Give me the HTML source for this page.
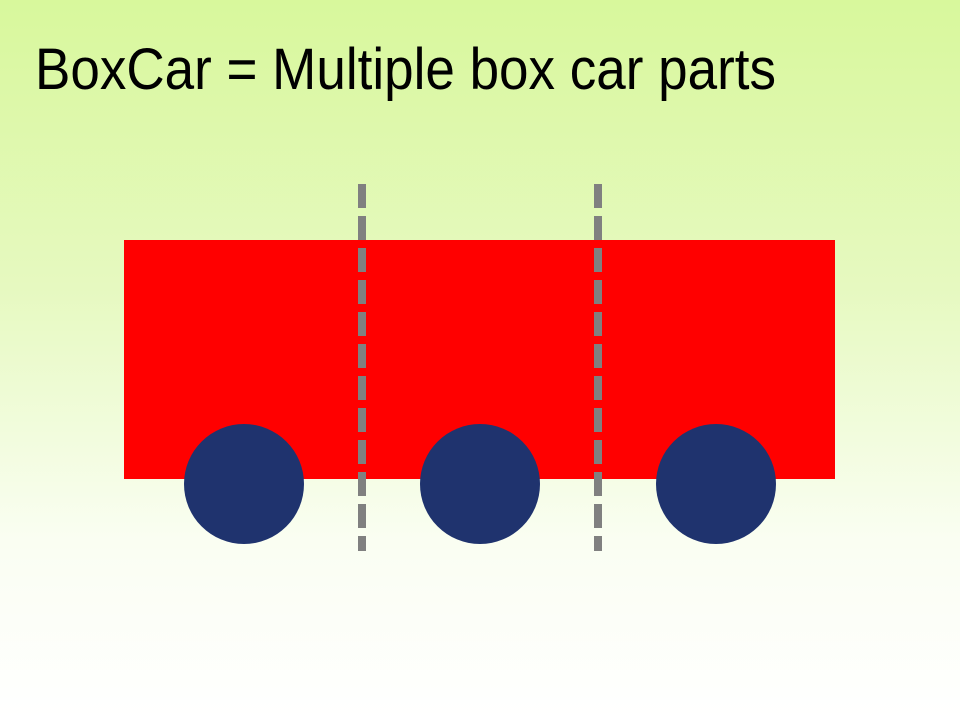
<!DOCTYPE html>
<html><head><style>
html,body{margin:0;padding:0}
body{width:960px;height:720px;overflow:hidden;background:linear-gradient(to bottom,#d8f89c 0%,#e6f9c0 40%,#fafef2 75%,#ffffff 100%)}
</style></head><body>
<svg width="960" height="720" xmlns="http://www.w3.org/2000/svg" style="position:absolute;left:0;top:0">
<text x="35" y="89" font-family="Liberation Sans, sans-serif" font-size="58" fill="#000" textLength="741" lengthAdjust="spacingAndGlyphs">BoxCar = Multiple box car parts</text>
<rect x="124" y="240" width="711" height="239" fill="#ff0000"/>
<circle cx="244" cy="484" r="60" fill="#1f336e"/>
<circle cx="480" cy="484" r="60" fill="#1f336e"/>
<circle cx="716" cy="484" r="60" fill="#1f336e"/>
<line x1="362" y1="184" x2="362" y2="551" stroke="#808080" stroke-width="8" stroke-dasharray="24 8"/>
<line x1="598" y1="184" x2="598" y2="551" stroke="#808080" stroke-width="8" stroke-dasharray="24 8"/>
</svg>
</body></html>
